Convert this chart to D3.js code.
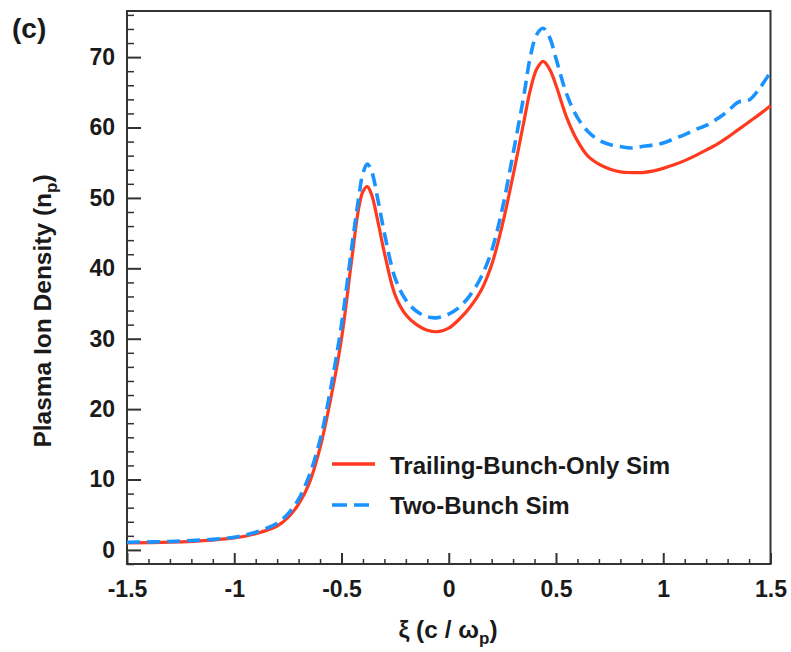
<!DOCTYPE html>
<html>
<head>
<meta charset="utf-8">
<script src="https://cdn.jsdelivr.net/npm/d3@7"></script>
<style>
  html, body { margin: 0; padding: 0; background: #fff; }
  svg { display: block; }
  text { font-family: "Liberation Sans", Arial, Helvetica, sans-serif; font-weight: bold; fill: #1a1a1a; }
</style>
</head>
<body>
<svg id="chart" width="791" height="652"></svg>
<script>
// ---- data ----
const xi = [-1.5, -1.3, -1.1, -1.0, -0.9, -0.8, -0.75, -0.7, -0.65, -0.6, -0.55, -0.5, -0.45, -0.42, -0.4, -0.38, -0.36, -0.33, -0.3, -0.25, -0.2, -0.15, -0.1, -0.05, 0, 0.05, 0.1, 0.15, 0.2, 0.25, 0.3, 0.35, 0.38, 0.41, 0.44, 0.47, 0.5, 0.55, 0.6, 0.65, 0.7, 0.75, 0.8, 0.85, 0.9, 0.95, 1.0, 1.05, 1.1, 1.15, 1.2, 1.25, 1.3, 1.35, 1.4, 1.45, 1.5];
const trailingOnly = [1.0, 1.1, 1.4, 1.7, 2.3, 3.4, 4.6, 6.5, 9.5, 14.5, 21.5, 30.0, 41.8, 48.5, 50.9, 51.6, 50.5, 46.6, 42.2, 36.2, 33.4, 32.0, 31.2, 31.0, 31.5, 32.8, 34.5, 36.8, 40.5, 46.2, 53.2, 60.8, 65.3, 68.3, 69.4, 68.3, 66.0, 61.4, 58.1, 55.9, 54.8, 54.1, 53.7, 53.6, 53.6, 53.8, 54.2, 54.7, 55.3, 56.0, 56.8, 57.6, 58.6, 59.7, 60.8, 61.9, 63.1];
const twoBunch = [1.1, 1.2, 1.5, 1.8, 2.5, 3.8, 5.1, 7.2, 10.6, 15.6, 23.0, 32.0, 43.5, 50.0, 53.5, 54.8, 53.8, 49.7, 45.0, 38.6, 35.5, 33.9, 33.1, 33.0, 33.5, 34.5, 36.2, 38.7, 42.5, 48.5, 56.3, 64.5, 70.0, 73.2, 74.1, 72.8, 69.8, 64.7, 61.4, 59.4, 58.2, 57.6, 57.3, 57.1, 57.3, 57.5, 57.8, 58.4, 59.0, 59.7, 60.3, 61.2, 62.3, 63.6, 63.9, 65.6, 67.9];
const seriesNames = ["Trailing-Bunch-Only Sim", "Two-Bunch Sim"];
const xMajorTicks = [-1.5, -1, -0.5, 0, 0.5, 1, 1.5];
const yMajorTicks = [0, 10, 20, 30, 40, 50, 60, 70];
const xDomain = [-1.5, 1.5];
const yDomain = [-2, 76.55];

// ---- layout ----
const L = 127, R = 770.5, T = 11, B = 564;
const svg = d3.select("#chart");
const x = d3.scaleLinear().domain(xDomain).range([L, R]);
const y = d3.scaleLinear().domain(yDomain).range([B, T]);

const xMinor = d3.range(-15, 16).map(d => d / 10).filter(d => !xMajorTicks.some(m => Math.abs(m - d) < 1e-9));
const yMinor = d3.range(-2, 77, 2).filter(d => d % 10 !== 0);

const tickFont = 23;

// minor ticks
svg.append("g").attr("transform", `translate(${L},0)`)
  .call(d3.axisLeft(y).tickValues(yMinor).tickSize(-7).tickFormat(""))
  .call(g => g.select(".domain").remove())
  .call(g => g.selectAll("line").attr("stroke", "#333").attr("stroke-width", 1.5));
svg.append("g").attr("transform", `translate(0,${B})`)
  .call(d3.axisBottom(x).tickValues(xMinor).tickSize(-5).tickFormat(""))
  .call(g => g.select(".domain").remove())
  .call(g => g.selectAll("line").attr("stroke", "#333").attr("stroke-width", 1.5));

// major ticks + labels
svg.append("g").attr("transform", `translate(${L},0)`)
  .call(d3.axisLeft(y).tickValues(yMajorTicks).tickSize(-14).tickPadding(12).tickFormat(d => String(d)))
  .call(g => g.select(".domain").remove())
  .call(g => g.selectAll("line").attr("stroke", "#333").attr("stroke-width", 2))
  .call(g => g.selectAll("text").attr("font-size", tickFont).attr("fill", "#1a1a1a")
    .attr("font-family", "Liberation Sans, Arial, sans-serif").attr("font-weight", "bold"));
svg.append("g").attr("transform", `translate(0,${B})`)
  .call(d3.axisBottom(x).tickValues(xMajorTicks).tickSize(-11).tickPadding(17).tickFormat(d => String(d)))
  .call(g => g.select(".domain").remove())
  .call(g => g.selectAll("line").attr("stroke", "#333").attr("stroke-width", 2))
  .call(g => g.selectAll("text").attr("font-size", tickFont).attr("fill", "#1a1a1a")
    .attr("font-family", "Liberation Sans, Arial, sans-serif").attr("font-weight", "bold"));

// frame
svg.append("rect").attr("x", L).attr("y", T).attr("width", R - L).attr("height", B - T)
  .attr("fill", "none").attr("stroke", "#333").attr("stroke-width", 2);

// curves
const line = d3.line().x(d => x(d[0])).y(d => y(d[1])).curve(d3.curveCatmullRom.alpha(0.5));
const redColor = "#ff3a1e", blueColor = "#1b93ff";
svg.append("path").datum(xi.map((v, i) => [v, trailingOnly[i]]))
  .attr("d", line).attr("fill", "none").attr("stroke", redColor).attr("stroke-width", 3.2);
svg.append("path").datum(xi.map((v, i) => [v, twoBunch[i]]))
  .attr("d", line).attr("fill", "none").attr("stroke", blueColor).attr("stroke-width", 3.6)
  .attr("stroke-dasharray", "13,7");

// legend
const lg = svg.append("g");
lg.append("line").attr("x1", 332).attr("x2", 375).attr("y1", 464).attr("y2", 464)
  .attr("stroke", redColor).attr("stroke-width", 3.5);
lg.append("text").attr("x", 390).attr("y", 473.5).attr("font-size", 24).text(seriesNames[0]);
lg.append("line").attr("x1", 332).attr("x2", 375).attr("y1", 505).attr("y2", 505)
  .attr("stroke", blueColor).attr("stroke-width", 3.5).attr("stroke-dasharray", "15,7");
lg.append("text").attr("x", 390).attr("y", 514).attr("font-size", 24).text(seriesNames[1]);

// panel label
svg.append("text").attr("x", 12).attr("y", 38).attr("font-size", 28).text("(c)");

// axis titles
const yt = svg.append("text").attr("transform", "translate(51,311) rotate(-90)")
  .attr("text-anchor", "middle").attr("font-size", 24.5);
yt.append("tspan").text("Plasma Ion Density (n");
yt.append("tspan").attr("font-size", 17).attr("dy", 6).text("p");
yt.append("tspan").attr("dy", -6).text(")");

const xt = svg.append("text").attr("x", 448).attr("y", 638)
  .attr("text-anchor", "middle").attr("font-size", 24.5);
xt.append("tspan").text("ξ (c / ω");
xt.append("tspan").attr("font-size", 17).attr("dy", 6).text("p");
xt.append("tspan").attr("dy", -6).text(")");
</script>
</body>
</html>
